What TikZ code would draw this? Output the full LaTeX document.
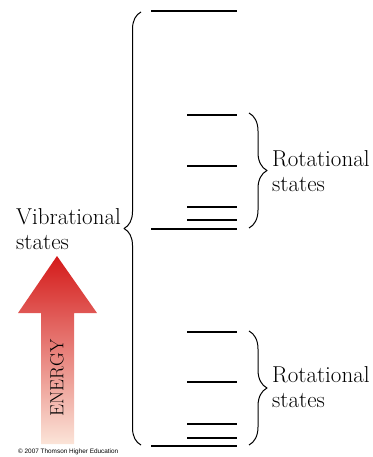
\documentclass[tikz,border=0pt]{standalone}
\usepackage{fontspec}
\newfontfamily\creditfont{Liberation Sans}
\usepackage{tikz}
\usetikzlibrary{decorations.pathreplacing}
\definecolor{arrowtop}{RGB}{212,26,26}
\definecolor{arrowmid}{RGB}{236,108,78}
\definecolor{arrowbot}{RGB}{251,228,216}

\begin{document}
\begin{tikzpicture}[x=1pt,y=-1pt,line cap=butt,line join=round,
  level/.style={line width=2.6pt},
  curly/.style={line width=1pt,decoration={brace,amplitude=#1},decorate},
  statetext/.style={font=\fontsize{23}{25}\selectfont,align=left,anchor=west,inner sep=0pt}]
\useasboundingbox(0,0)rectangle(372,457);
% vibrational and rotational levels
\foreach \y in {11,229,446}
  \draw[level](151,\y)--(237,\y);
\foreach \y in {115,166,207,220,332,382,424,438}
  \draw[level](187,\y)--(237,\y);
% braces
\coordinate(vibtop)at(141,12);
\coordinate(vibbot)at(141,445);
\coordinate(uptop)at(249,113);
\coordinate(upbot)at(249,228);
\coordinate(lowtop)at(249,331);
\coordinate(lowbot)at(249,445);
\draw[curly=17pt](vibbot)--(vibtop);
\draw[curly=18pt](uptop)--(upbot);
\draw[curly=18pt](lowtop)--(lowbot);
% labels
\node[statetext](vib)at(16,229){Vibrational\\states};
\node[statetext](rotup)at(272,171){Rotational\\states};
\node[statetext](rotlow)at(272,387){Rotational\\states};
% energy arrow
\shade[top color=arrowtop,middle color=arrowmid,bottom color=arrowbot]
  (57,256)--(97,313)--(74,313)--(74,444)--(41,444)--(41,313)--(18,313)--cycle;
\node[rotate=90,font=\fontsize{19}{19}\selectfont,inner sep=0pt](energy)at(57,378){ENERGY};
\node[anchor=west,font=\creditfont\fontsize{6.4}{7}\selectfont,inner sep=0pt](credit)at(18,452)
  {\textcopyright{} 2007 Thomson Higher Education};
\end{tikzpicture}
\end{document}
